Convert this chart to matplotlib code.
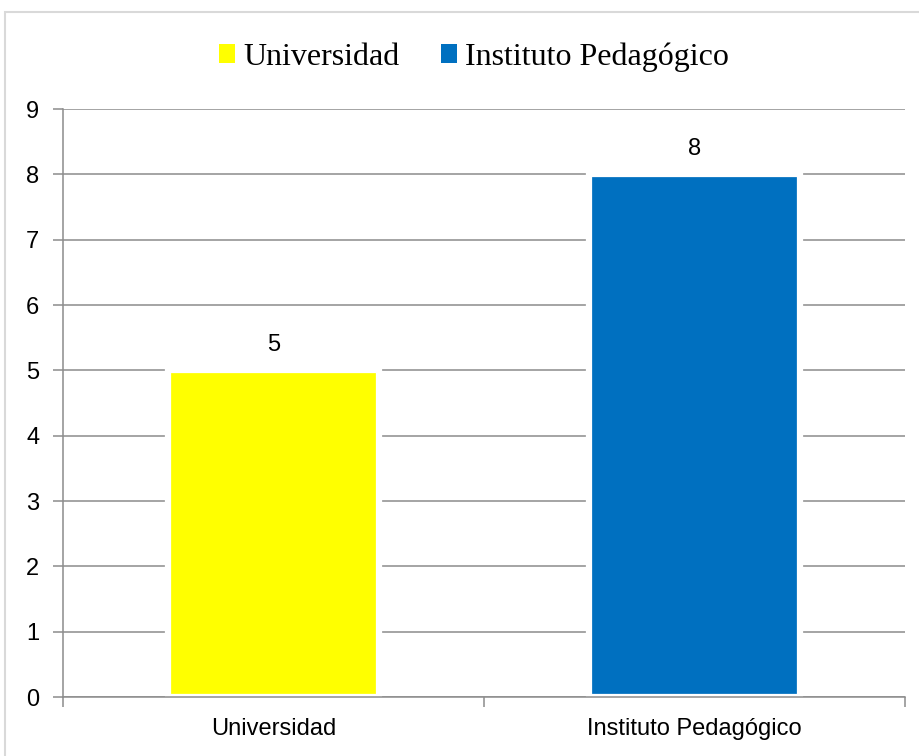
import matplotlib.pyplot as plt
from matplotlib.patches import Rectangle, Patch

categories = ['Universidad', 'Instituto Pedagógico']
values = [5, 8]
colors = ['#ffff00', '#0070c0']
yticks = [0, 1, 2, 3, 4, 5, 6, 7, 8, 9]

sans = ['Liberation Sans', 'DejaVu Sans']
serif = ['Liberation Serif', 'DejaVu Serif']

fig = plt.figure(figsize=(9.2, 7.56), dpi=100)
ax = fig.add_axes([63/920, 1-697/756, (905-63)/920, (697-109)/756])

# outer frame
fig.patches.append(Rectangle((5/920, -0.1), 1.2, 1-12/756+0.1, transform=fig.transFigure,
                             fill=False, edgecolor='#d9d9d9', linewidth=1.5))

x = list(range(len(categories)))
ax.bar(x, values, width=0.5, color=colors, edgecolor='white', linewidth=4.5, zorder=3)

for xi, v in zip(x, values):
    ax.annotate(str(v), (xi, v), xytext=(0, 10), textcoords='offset points',
                ha='center', va='bottom', fontsize=17, family=sans)

ax.set_xlim(-0.5, 1.5)
ax.set_ylim(0, 9)
ax.set_yticks(yticks)
ax.set_yticklabels([str(t) for t in yticks], family=sans, fontsize=17)
ax.yaxis.grid(True, color='#8c8c8c', linewidth=1.1, zorder=0)
ax.set_axisbelow(True)

ax.set_xticks([-0.5, 0.5, 1.5])
ax.set_xticklabels([])
ax.set_xticks(x, minor=True)
ax.set_xticklabels(categories, minor=True, family=sans, fontsize=17)
ax.tick_params(axis='x', which='minor', length=0, pad=15)
ax.tick_params(axis='x', which='major', length=7, color='#8c8c8c', width=1.1)
ax.tick_params(axis='y', length=7, color='#8c8c8c', width=1.1, pad=10)

for s in ['top', 'right']:
    ax.spines[s].set_visible(False)
for s in ['left', 'bottom']:
    ax.spines[s].set_color('#8c8c8c')
    ax.spines[s].set_linewidth(1.1)
    ax.spines[s].set_zorder(4)

handles = [Patch(facecolor=c, edgecolor='none') for c in colors]
fig.legend(handles, categories, loc='center', bbox_to_anchor=(474/920, 1-57/756),
           ncol=2, frameon=False, prop={'family': serif, 'size': 23},
           handlelength=0.5, handleheight=0.5, handletextpad=0.25, columnspacing=1.3)

fig.savefig('out.png', dpi=100)
